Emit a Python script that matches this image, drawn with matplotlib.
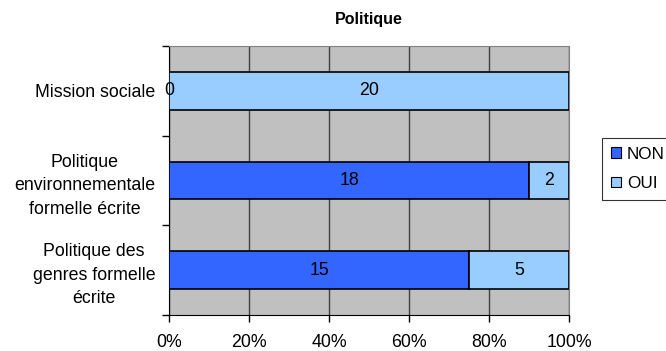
import matplotlib
matplotlib.use('Agg')
import matplotlib.pyplot as plt
from matplotlib.patches import Patch
import numpy as np

plt.rcParams['font.family'] = ['Liberation Sans', 'DejaVu Sans']

# Survey answers per policy item (counts), bottom to top
categories = ["Politique des\ngenres formelle\nécrite",
              "Politique\nenvironnementale\nformelle écrite",
              "Mission sociale"]
non_counts = [15, 18, 0]
oui_counts = [5, 2, 20]
series_names = ["NON", "OUI"]
x_ticks = [0, 20, 40, 60, 80, 100]

non_color = '#3366FF'
oui_color = '#99CCFF'
fs = 12.8

non = np.array(non_counts, dtype=float)
oui = np.array(oui_counts, dtype=float)
total = non + oui
non_pct = non / total * 100
oui_pct = oui / total * 100

fig = plt.figure(figsize=(6.66, 3.51), dpi=100)
ax = fig.add_axes([0.2538, 0.1026, 0.6006, 0.7664])
ax.set_facecolor('#C0C0C0')

y = np.arange(len(categories))
bar_h = 0.42
ax.barh(y, non_pct, height=bar_h, color=non_color, edgecolor='black', linewidth=1.2, zorder=3)
ax.barh(y, oui_pct, left=non_pct, height=bar_h, color=oui_color, edgecolor='black', linewidth=1.2, zorder=3)

# Value labels centred in each segment
for i in range(len(categories)):
    ax.text(non_pct[i] / 2, y[i], f"{non_counts[i]}", ha='center', va='center', fontsize=fs, zorder=4)
    ax.text(non_pct[i] + oui_pct[i] / 2, y[i], f"{oui_counts[i]}", ha='center', va='center', fontsize=fs, zorder=4)

ax.set_xlim(0, 100)
ax.set_ylim(-0.5, len(categories) - 0.5)

ax.set_xticks(x_ticks)
ax.set_xticklabels([f"{t}%" for t in x_ticks], fontsize=fs)
ax.tick_params(axis='x', direction='out', length=5, width=1, color='black', pad=9)

# Category labels at bar centres, tick marks at category boundaries
ax.set_yticks(y)
ax.set_yticklabels(categories, fontsize=fs, ha='right', multialignment='center', linespacing=1.5)
ax.tick_params(axis='y', which='major', length=0, pad=10)
ax.set_yticks(np.arange(-0.5, len(categories)), minor=True)
ax.tick_params(axis='y', which='minor', direction='out', length=5, width=1, color='black')

ax.grid(axis='x', color='#404040', linewidth=1.0, zorder=1)
ax.set_axisbelow(True)

ax.spines['left'].set_color('black')
ax.spines['bottom'].set_color('black')
ax.spines['top'].set_color('#808080')
ax.spines['right'].set_color('#808080')

ax.set_title("Politique", fontsize=11.5, fontweight='bold', pad=16)

handles = [Patch(facecolor=non_color, edgecolor='black', linewidth=0.8),
           Patch(facecolor=oui_color, edgecolor='black', linewidth=0.8)]
leg = fig.legend(handles, series_names, loc='upper left', bbox_to_anchor=(0.9039, 0.6068),
                 fontsize=12.3, frameon=True, fancybox=False, handlelength=0.6, handleheight=0.6,
                 handletextpad=0.35, borderpad=0.5, labelspacing=0.85, borderaxespad=0)
leg.get_frame().set_edgecolor('black')
leg.get_frame().set_linewidth(0.8)

fig.savefig('out.png', dpi=100)
